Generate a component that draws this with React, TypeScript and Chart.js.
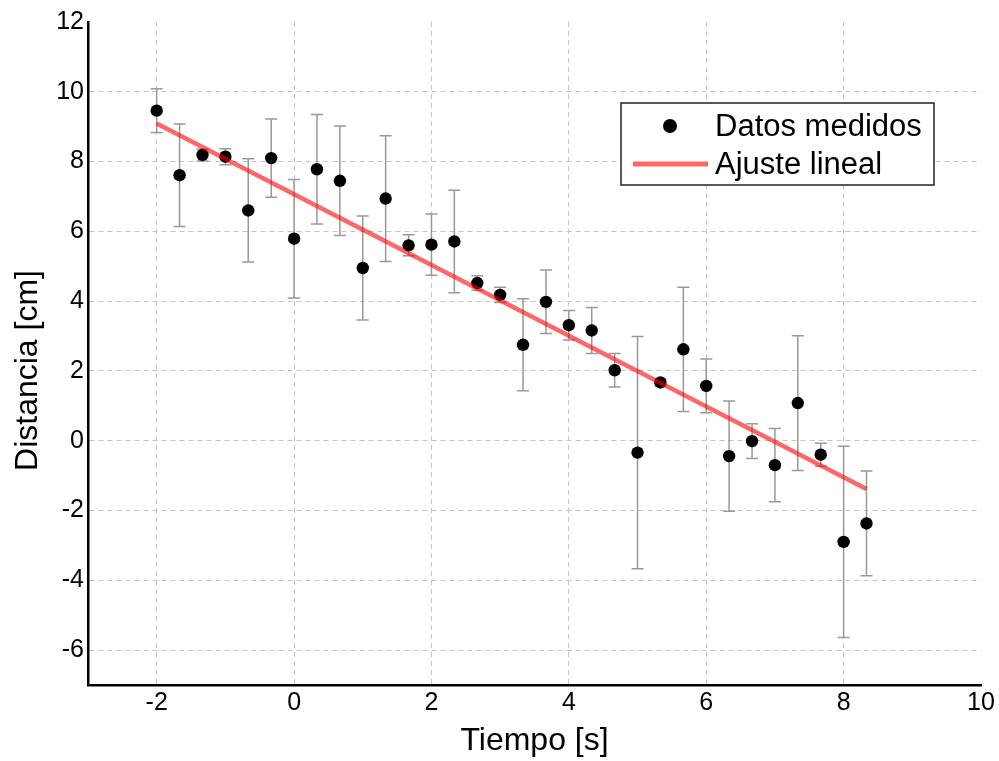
import React, { useEffect, useRef } from 'react';
import { Chart, registerables } from 'chart.js';

Chart.register(...registerables);

const timeS = [
  -2, -1.667, -1.333, -1, -0.667, -0.333, 0, 0.333, 0.667, 1, 1.333, 1.667, 2, 2.333, 2.667, 3,
  3.333, 3.667, 4, 4.333, 4.667, 5, 5.333, 5.667, 6, 6.333, 6.667, 7, 7.333, 7.667, 8, 8.333,
];
const distanceCm = [
  9.46, 7.61, 8.19, 8.14, 6.6, 8.1, 5.79, 7.78, 7.45, 4.95, 6.94, 5.6, 5.62, 5.71, 4.52, 4.18,
  2.75, 3.98, 3.31, 3.16, 2.02, -0.34, 1.67, 2.62, 1.57, -0.44, -0.01, -0.7, 1.08, -0.4, -2.9, -2.37,
];
const distanceErr = [
  0.63, 1.47, 0.17, 0.23, 1.48, 1.12, 1.7, 1.57, 1.57, 1.49, 1.8, 0.3, 0.88, 1.47, 0.21, 0.22,
  1.32, 0.91, 0.42, 0.66, 0.48, 3.33, 0.1, 1.78, 0.77, 1.58, 0.5, 1.05, 1.93, 0.33, 2.74, 1.5,
];

// Linear fit endpoints
const fitX = [-2, 8.333];
const fitY = [9.09, -1.38];

// Axes
const xTicks = [-2, 0, 2, 4, 6, 8, 10];
const yTicks = [-6, -4, -2, 0, 2, 4, 6, 8, 10, 12];
const xRange = [-3, 10];
const yRange = [-7, 12];

const labelPoints = 'Datos medidos';
const labelFit = 'Ajuste lineal';
const xTitle = 'Tiempo [s]';
const yTitle = 'Distancia [cm]';

const FONT = "'Liberation Sans', Arial, sans-serif";
const FIT_COLOR = 'rgba(255,0,0,0.6)';
const GRID_COLOR = '#c4c4c4';

const errorBarPlugin = {
  id: 'errorBars',
  beforeDatasetsDraw(chart: any) {
    const { ctx, scales } = chart;
    const x = scales.x;
    const y = scales.y;
    ctx.save();
    ctx.strokeStyle = '#999999';
    ctx.lineWidth = 1.5;
    const cap = 6;
    timeS.forEach((t, i) => {
      const px = x.getPixelForValue(t);
      const top = y.getPixelForValue(distanceCm[i] + distanceErr[i]);
      const bot = y.getPixelForValue(distanceCm[i] - distanceErr[i]);
      ctx.beginPath();
      ctx.moveTo(px, top);
      ctx.lineTo(px, bot);
      ctx.moveTo(px - cap, top);
      ctx.lineTo(px + cap, top);
      ctx.moveTo(px - cap, bot);
      ctx.lineTo(px + cap, bot);
      ctx.stroke();
    });
    ctx.restore();
  },
};

const yTitlePlugin = {
  id: 'yTitle',
  afterDraw(chart: any) {
    const { ctx, chartArea } = chart;
    ctx.save();
    ctx.translate(28, (chartArea.top + chartArea.bottom) / 2 + 17);
    ctx.rotate(-Math.PI / 2);
    ctx.fillStyle = '#000000';
    ctx.font = `32px ${FONT}`;
    ctx.textAlign = 'center';
    ctx.textBaseline = 'middle';
    ctx.fillText(yTitle, 0, 0);
    ctx.restore();
  },
};

const legendPlugin = {
  id: 'boxLegend',
  afterDraw(chart: any) {
    const { ctx, chartArea } = chart;
    const left = chartArea.right - 360;
    const top = chartArea.top + 81;
    const w = 313;
    const h = 82;
    ctx.save();
    ctx.fillStyle = '#ffffff';
    ctx.fillRect(left, top, w, h);
    ctx.strokeStyle = '#222222';
    ctx.lineWidth = 1.5;
    ctx.strokeRect(left, top, w, h);

    const row1 = top + 23;
    const row2 = top + 61;
    ctx.fillStyle = '#000000';
    ctx.beginPath();
    ctx.arc(left + 49, row1, 7, 0, Math.PI * 2);
    ctx.fill();
    ctx.strokeStyle = FIT_COLOR;
    ctx.lineWidth = 5;
    ctx.beginPath();
    ctx.moveTo(left + 12, row2);
    ctx.lineTo(left + 87, row2);
    ctx.stroke();

    ctx.fillStyle = '#000000';
    ctx.font = `31px ${FONT}`;
    ctx.textBaseline = 'middle';
    ctx.textAlign = 'left';
    const ds = chart.data.datasets;
    ctx.fillText(ds[1].label, left + 94, row1 + 1);
    ctx.fillText(ds[0].label, left + 94, row2 + 1);
    ctx.restore();
  },
};

export default function App() {
  const ref = useRef<HTMLCanvasElement>(null);

  useEffect(() => {
    document.body.style.margin = '0';
    const canvas = ref.current!;
    const chart = new Chart(canvas, {
      type: 'scatter',
      data: {
        datasets: [
          {
            label: labelFit,
            data: fitX.map((v, i) => ({ x: v, y: fitY[i] })),
            showLine: true,
            borderColor: FIT_COLOR,
            backgroundColor: FIT_COLOR,
            borderWidth: 4.5,
            pointRadius: 0,
            order: 0,
          } as any,
          {
            label: labelPoints,
            data: timeS.map((v, i) => ({ x: v, y: distanceCm[i] })),
            backgroundColor: '#000000',
            borderColor: '#000000',
            pointRadius: 6.2,
            pointBorderWidth: 0,
            order: 1,
          },
        ],
      },
      options: {
        responsive: false,
        animation: false,
        events: [],
        layout: { padding: { top: 22, right: 18, left: 0, bottom: 0 } },
        plugins: {
          legend: { display: false },
          tooltip: { enabled: false },
        },
        scales: {
          x: {
            type: 'linear',
            min: xRange[0],
            max: xRange[1],
            afterBuildTicks: (scale: any) => {
              scale.ticks = xTicks.map((v) => ({ value: v }));
            },
            afterFit: (scale: any) => {
              scale.height = 76;
            },
            grid: {
              color: (c: any) => (c.tick && c.tick.value === xRange[1] ? 'rgba(0,0,0,0)' : GRID_COLOR),
              lineWidth: 1,
              drawTicks: false,
            },
            border: { display: true, color: '#000000', width: 2.5, dash: [5, 4] },
            ticks: {
              color: '#000000',
              font: { family: FONT, size: 25 },
              padding: 3,
              maxRotation: 0,
              autoSkip: false,
            },
            title: {
              display: true,
              text: xTitle,
              color: '#000000',
              font: { family: FONT, size: 32 },
              padding: { top: 0, bottom: 1 },
            },
          },
          y: {
            type: 'linear',
            min: yRange[0],
            max: yRange[1],
            afterBuildTicks: (scale: any) => {
              scale.ticks = yTicks.map((v) => ({ value: v }));
            },
            afterFit: (scale: any) => {
              scale.width = 88;
            },
            grid: {
              color: (c: any) => (c.tick && c.tick.value === yRange[1] ? 'rgba(0,0,0,0)' : GRID_COLOR),
              lineWidth: 1,
              drawTicks: false,
            },
            border: { display: true, color: '#000000', width: 2.5, dash: [5, 4] },
            ticks: {
              color: '#000000',
              font: { family: FONT, size: 25 },
              padding: 4,
              autoSkip: false,
            },
            title: { display: false },
          },
        },
      },
      plugins: [errorBarPlugin, legendPlugin, yTitlePlugin],
    });
    return () => chart.destroy();
  }, []);

  return (
    <div style={{ width: 999, height: 761, position: 'relative' }}>
      <canvas ref={ref} width={999} height={761} />
    </div>
  );
}
